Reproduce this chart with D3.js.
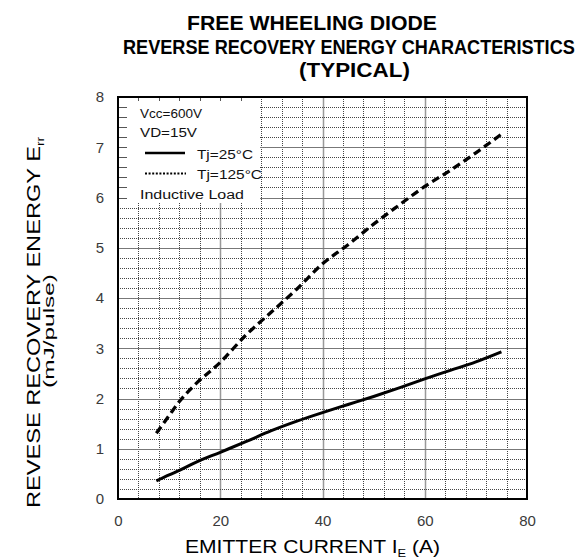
<!DOCTYPE html>
<html>
<head>
<meta charset="utf-8">
<script src="https://cdn.jsdelivr.net/npm/d3@7"></script>
<style>
  html, body { margin: 0; padding: 0; background: #fff; }
  svg { display: block; font-family: "Liberation Sans", Arial, sans-serif; }
</style>
</head>
<body>
<svg id="chart" width="579" height="560"></svg>
<script>
// Emitter current (A) sample points along each curve
const currentA = [7.5, 10, 12, 15, 20, 25, 30, 35, 40, 45, 50, 55, 60, 65, 70, 75];
// Reverse recovery energy (mJ/pulse), Tj = 25°C
const err25 = [0.36, 0.48, 0.57, 0.72, 0.93, 1.14, 1.36, 1.55, 1.72, 1.88, 2.04, 2.21, 2.39, 2.56, 2.73, 2.93];
// Reverse recovery energy (mJ/pulse), Tj = 125°C
const err125 = [1.31, 1.66, 1.94, 2.27, 2.72, 3.26, 3.72, 4.18, 4.68, 5.06, 5.47, 5.85, 6.22, 6.54, 6.89, 7.26];

const xTicks = [0, 20, 40, 60, 80];
const yTicks = [0, 1, 2, 3, 4, 5, 6, 7, 8];
const titleLines = ["FREE WHEELING DIODE", "REVERSE RECOVERY ENERGY CHARACTERISTICS", "(TYPICAL)"];
const legendNotes = ["Vcc=600V", "VD=15V"];
const legendSeries = ["Tj=25°C", "Tj=125°C"];
const legendFooter = "Inductive Load";

const svg = d3.select("#chart");
const plot = { left: 118, top: 97, right: 527, bottom: 499 };

const x = d3.scaleLinear().domain([0, 80]).range([plot.left, plot.right]);
const y = d3.scaleLinear().domain([0, 8]).range([plot.bottom, plot.top]);
const crisp = v => Math.round(v) + 0.5;

// Title: each line is scaled horizontally to its own width
const titleBox = [
  { x: 187, y: 30, w: 250 },
  { x: 123, y: 54, w: 452 },
  { x: 299, y: 77, w: 111 }
];
svg.append("g").selectAll("text").data(titleLines).join("text")
  .attr("font-weight", "bold").attr("font-size", 20.5).attr("fill", "#000")
  .text(d => d)
  .each(function (d, i) {
    const b = titleBox[i];
    const k = b.w / this.getComputedTextLength();
    d3.select(this).attr("transform", `translate(${b.x},${b.y}) scale(${k},1)`);
  });

// Grid
const grid = svg.append("g");
const xGrid = d3.range(4, 80, 4);
const yGrid = d3.range(1, 40).map(i => i / 5);
const isMajorY = d => Math.abs(d - Math.round(d)) < 1e-6;
grid.selectAll("line.gx").data(xGrid).join("line")
  .attr("x1", d => crisp(x(d))).attr("x2", d => crisp(x(d)))
  .attr("y1", plot.top).attr("y2", plot.bottom)
  .attr("stroke", d => d % 20 === 0 ? "#999" : "#444")
  .attr("stroke-width", d => d % 20 === 0 ? 1.5 : 1)
  .attr("stroke-dasharray", d => d % 20 === 0 ? null : "1,1");
grid.selectAll("line.gy").data(yGrid).join("line")
  .attr("x1", plot.left).attr("x2", plot.right)
  .attr("y1", d => crisp(y(d))).attr("y2", d => crisp(y(d)))
  .attr("stroke", d => isMajorY(d) ? "#777" : "#444")
  .attr("stroke-width", 1)
  .attr("stroke-dasharray", d => isMajorY(d) ? null : "1,1");

// Legend panel (blanks the grid behind it, keeps short frame ticks)
const lg = { x0: plot.left, x1: 260, y0: plot.top, y1: 203 };
svg.append("rect").attr("x", lg.x0).attr("y", lg.y0)
  .attr("width", lg.x1 - lg.x0).attr("height", lg.y1 - lg.y0).attr("fill", "#fff");
const tickG = svg.append("g");
tickG.selectAll("line.tl").data(yGrid.filter(d => y(d) < lg.y1 - 2)).join("line")
  .attr("x1", plot.left).attr("x2", plot.left + 9)
  .attr("y1", d => crisp(y(d))).attr("y2", d => crisp(y(d)))
  .attr("stroke", "#555").attr("stroke-width", 1);
tickG.selectAll("line.tt").data(xGrid.filter(d => x(d) < lg.x1 - 2)).join("line")
  .attr("x1", d => crisp(x(d))).attr("x2", d => crisp(x(d)))
  .attr("y1", plot.top).attr("y2", plot.top + 4)
  .attr("stroke", "#555").attr("stroke-width", 1);

// Curves
const line = d3.line().x(d => x(d[0])).y(d => y(d[1])).curve(d3.curveMonotoneX);
svg.append("path").datum(currentA.map((c, i) => [c, err25[i]]))
  .attr("d", line).attr("fill", "none").attr("stroke", "#000")
  .attr("stroke-width", 3);
svg.append("path").datum(currentA.map((c, i) => [c, err125[i]]))
  .attr("d", line).attr("fill", "none").attr("stroke", "#000")
  .attr("stroke-width", 3.3).attr("stroke-dasharray", "8,4.5");

// Frame
svg.append("rect").attr("x", plot.left).attr("y", plot.top)
  .attr("width", plot.right - plot.left).attr("height", plot.bottom - plot.top)
  .attr("fill", "none").attr("stroke", "#000").attr("stroke-width", 2);

// Axes (labels only; the grid supplies the ticks)
const xAxis = svg.append("g").attr("transform", `translate(0,${plot.bottom})`)
  .call(d3.axisBottom(x).tickValues(xTicks).tickSize(0).tickPadding(16));
const yAxis = svg.append("g").attr("transform", `translate(${plot.left},0)`)
  .call(d3.axisLeft(y).tickValues(yTicks).tickSize(0).tickPadding(14));
[xAxis, yAxis].forEach(a => {
  a.select(".domain").remove();
  a.selectAll("text").attr("font-size", 15).attr("fill", "#3a3a3a")
    .attr("font-family", "Liberation Sans, Arial, sans-serif");
});

// Legend content
const lgText = svg.append("g").attr("font-size", 12).attr("fill", "#111");
const noteW = [62, 57];
lgText.selectAll("text.n").data(legendNotes).join("text")
  .attr("x", 140).attr("y", (d, i) => [118, 137][i])
  .attr("textLength", (d, i) => noteW[i]).attr("lengthAdjust", "spacingAndGlyphs")
  .text(d => d);
const seriesY = [153, 173.5];
const seriesW = [56, 65];
lgText.selectAll("text.s").data(legendSeries).join("text")
  .attr("x", 197).attr("y", (d, i) => [159, 179][i])
  .attr("textLength", (d, i) => seriesW[i]).attr("lengthAdjust", "spacingAndGlyphs")
  .text(d => d);
lgText.append("line").attr("x1", 145).attr("x2", 185)
  .attr("y1", seriesY[0]).attr("y2", seriesY[0])
  .attr("stroke", "#000").attr("stroke-width", 2.5);
lgText.append("line").attr("x1", 145).attr("x2", 186)
  .attr("y1", seriesY[1]).attr("y2", seriesY[1])
  .attr("stroke", "#000").attr("stroke-width", 2).attr("stroke-dasharray", "2,1.6");
lgText.append("text").attr("x", 140).attr("y", 199)
  .attr("textLength", 104).attr("lengthAdjust", "spacingAndGlyphs").text(legendFooter);

// X axis title
const xt = svg.append("text").attr("x", 185).attr("y", 553)
  .attr("textLength", 255).attr("lengthAdjust", "spacingAndGlyphs")
  .attr("font-size", 18).attr("fill", "#000");
xt.append("tspan").text("EMITTER CURRENT I");
xt.append("tspan").attr("font-size", 11).attr("dy", 4).text("E");
xt.append("tspan").attr("dy", -4).text(" (A)");

// Y axis title (two lines, rotated)
const yt1 = svg.append("text").attr("transform", "translate(39.5,508) rotate(-90)")
  .attr("textLength", 371).attr("lengthAdjust", "spacingAndGlyphs")
  .attr("font-size", 19).attr("fill", "#000");
yt1.append("tspan").text("REVESE RECOVERY ENERGY E");
yt1.append("tspan").attr("font-size", 11).attr("dy", 4).text("rr");
svg.append("text").attr("transform", "translate(53.5,388) rotate(-90)")
  .attr("textLength", 114).attr("lengthAdjust", "spacingAndGlyphs")
  .attr("font-size", 15.5).attr("fill", "#000")
  .text("(mJ/pulse)");
</script>
</body>
</html>
